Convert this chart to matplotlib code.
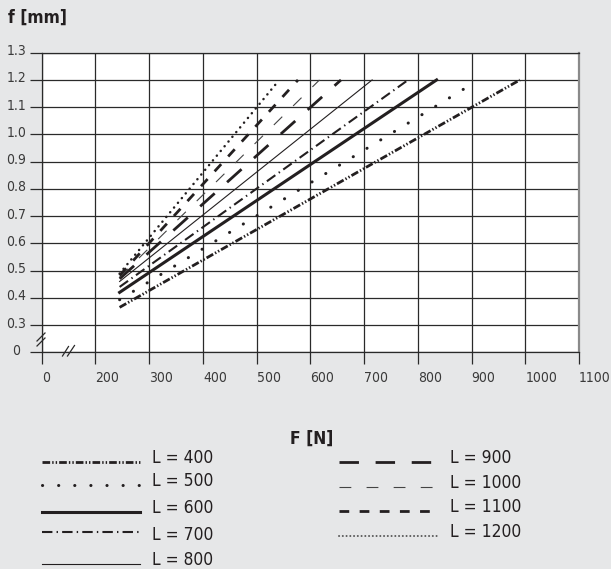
import numpy as np
import matplotlib
matplotlib.use("Agg")
import matplotlib.pyplot as plt
from matplotlib.lines import Line2D
from matplotlib.transforms import ScaledTranslation

plt.rcParams['font.family'] = ['DejaVu Sans']
plt.rcParams['font.stretch'] = 'condensed'
plt.rcParams['lines.scale_dashes'] = False

# series: start / end points (F in N, f in mm)
labels = ["L = 400", "L = 500", "L = 600", "L = 700", "L = 800",
          "L = 900", "L = 1000", "L = 1100", "L = 1200"]
F_start = [245, 245, 245, 245, 245, 245, 245, 245, 245]
f_start = [0.365, 0.393, 0.420, 0.440, 0.460, 0.470, 0.476, 0.482, 0.489]
F_end = [990, 905, 835, 782, 715, 657, 617, 577, 538]
f_end = [1.2, 1.19, 1.2, 1.2, 1.2, 1.2, 1.2, 1.2, 1.19]

x_ticks = [0, 200, 300, 400, 500, 600, 700, 800, 900, 1000, 1100]
y_ticks = [0, 0.3, 0.4, 0.5, 0.6, 0.7, 0.8, 0.9, 1.0, 1.1, 1.2, 1.3]

ink = '#231f20'
bg = '#e6e7e8'

styles = [
    dict(lw=2.0, ls=(0, (5.5, 1.5, 1, 1.5, 1, 1.5)), color=ink),
    dict(lw=2.2, ls=(0, (0.1, 11.5)), color=ink, dash_capstyle='round'),
    dict(lw=2.2, ls='-', color=ink),
    dict(lw=1.5, ls=(0, (7.5, 3, 1, 3)), color=ink),
    dict(lw=0.8, ls='-', color=ink),
    dict(lw=2.0, ls=(0, (14, 12)), color=ink),
    dict(lw=0.8, ls=(0, (8.5, 11)), color='#444444'),
    dict(lw=2.0, ls=(0, (7, 7.5)), color=ink),
    dict(lw=1.8, ls=(0, (0.1, 4.3)), color=ink, dash_capstyle='round'),
]


def fwd_x(v):
    v = np.asarray(v, dtype=float)
    return np.where(v < 200, v / 200.0, (v - 100) / 100.0)


def inv_x(p):
    p = np.asarray(p, dtype=float)
    return np.where(p < 1, p * 200.0, p * 100.0 + 100)


def fwd_y(v):
    v = np.asarray(v, dtype=float)
    return np.where(v < 0.3, v / 0.3, (v - 0.2) / 0.1)


def inv_y(p):
    p = np.asarray(p, dtype=float)
    return np.where(p < 1, p * 0.3, p * 0.1 + 0.2)


W, H = 611, 569
fig = plt.figure(figsize=(W / 100, H / 100), dpi=100, facecolor=bg)


def fx(x):
    return x / W


def fy(y):
    return 1 - y / H


ax = fig.add_axes([fx(41.7), fy(352.3), fx(579) - fx(41.7), fy(52.7) - fy(352.3)])
ax.set_facecolor('white')
ax.set_xscale('function', functions=(fwd_x, inv_x))
ax.set_yscale('function', functions=(fwd_y, inv_y))
ax.set_xlim(0, 1100)
ax.set_ylim(0, 1.3)

for i in range(len(labels)):
    ax.plot([F_start[i], F_end[i]], [f_start[i], f_end[i]], **styles[i])

ax.set_xticks(x_ticks)
ax.set_xticklabels([str(t) for t in x_ticks], ha='left')
ax.set_yticks(y_ticks)
ax.set_yticklabels(["0"] + ["%.1f" % t for t in y_ticks[1:]], ha='center', va='baseline')
ax.minorticks_off()
ax.grid(True, color='#2a2a2a', lw=0.9)
ax.set_axisbelow(True)
ax.tick_params(length=8.8, width=0.9, color='#2a2a2a', labelsize=10,
               labelcolor='#3a3a3a', direction='out')
ax.tick_params(axis='y', pad=9.5)
ax.tick_params(axis='x', pad=5)
shift = ScaledTranslation(0, -2.5 / 100, fig.dpi_scale_trans)
for lbl in ax.get_yticklabels():
    lbl.set_transform(lbl.get_transform() + shift)
for s in ['left', 'bottom', 'top']:
    ax.spines[s].set_color('#2a2a2a')
    ax.spines[s].set_linewidth(0.9)
ax.spines['right'].set_color('#8a8a8a')
ax.spines['right'].set_linewidth(1.6)

# axis break marks
for (x0, y0, x1, y1) in [(62.5, 356, 68.5, 346.5), (67.5, 356, 74.5, 345.5),
                         (37, 341, 45, 333), (37, 346, 45, 338)]:
    fig.add_artist(Line2D([fx(x0), fx(x1)], [fy(y0), fy(y1)], color='#2a2a2a', lw=0.9))

fig.text(fx(8), fy(18), "f [mm]", fontsize=12.5, fontweight='bold', color=ink,
         ha='left', va='center')
fig.text(fx(312), fy(439), "F [N]", fontsize=12.5, fontweight='bold', color=ink,
         ha='center', va='center')

# legend, two columns
leg_left = [(42, 140, 462, 151.7, 458), (42, 140, 485, 151.7, 481), (42, 140, 511.5, 151.7, 508),
            (42, 140, 532, 151.7, 535), (42, 140, 564, 151.7, 560)]
leg_right = [(339.3, 437.3, 461.7, 450, 458), (339.3, 437.3, 486.7, 450, 483),
             (339.3, 437.3, 511, 450, 507), (339.3, 437.3, 536, 450, 532)]
for i, (x0, x1, yl, xt, yt) in enumerate(leg_left + leg_right):
    st = dict(styles[i])
    if i == 8:
        st.update(lw=1.4, ls=(0, (0.1, 2.6)), color='#555555')
    fig.add_artist(Line2D([fx(x0), fx(x1)], [fy(yl), fy(yl)], **st))
    fig.text(fx(xt), fy(yt), labels[i], fontsize=12.5, color=ink, ha='left', va='center')

fig.savefig("out.png", dpi=100, facecolor=bg)
